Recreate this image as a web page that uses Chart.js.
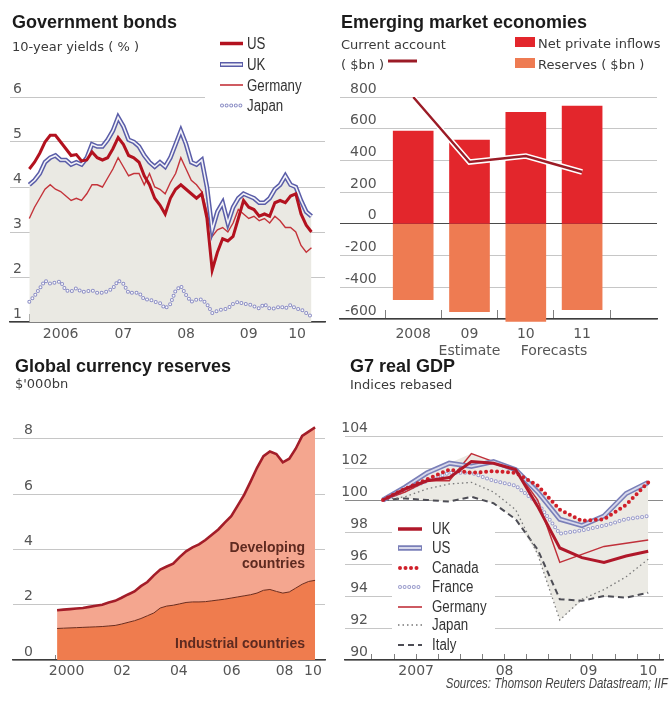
<!DOCTYPE html>
<html>
<head>
<meta charset="utf-8">
<script src="https://cdn.jsdelivr.net/npm/chart.js@4.4.1/dist/chart.umd.min.js"></script>
<style>
  html, body { margin: 0; padding: 0; background: #fff; }
  #page { position: relative; width: 671px; height: 702px; overflow: hidden; font-family: 'DejaVu Sans', sans-serif; color: #333; }
  canvas { position: absolute; }
  svg { position: absolute; left: 0; top: 0; }
  .t { position: absolute; white-space: nowrap; line-height: 1; transform: translateY(-50%); }
  .title { font-family: 'Liberation Sans', Arial, sans-serif; font-weight: bold; font-size: 18px; color: #1b1b1b; }
  .sub { font-size: 13px; color: #3a3a3a; }
  .leg { font-family: 'Liberation Sans', Arial, sans-serif; font-size: 16px; color: #333;
         transform: translateY(-50%) scaleX(0.83); transform-origin: left center; }
  .area { font-family: 'Liberation Sans', Arial, sans-serif; font-weight: bold; font-size: 14px; color: #5e2a20; text-align: right; }
  .src { font-family: 'Liberation Sans', Arial, sans-serif; font-style: italic; font-size: 14px; color: #444;
         transform: translateY(-50%) scaleX(0.82); transform-origin: right center; }
</style>
</head>
<body>
<div id="page">
  <canvas id="bonds" width="335" height="270" style="left:0;top:80px"></canvas>
  <canvas id="emerging" width="336" height="300" style="left:335px;top:80px"></canvas>
  <canvas id="reserves" width="335" height="290" style="left:0;top:400px"></canvas>
  <canvas id="gdp" width="336" height="260" style="left:335px;top:420px"></canvas>

  <svg width="671" height="702" viewBox="0 0 671 702">
    <!-- bond legend -->
    <rect x="205" y="30" width="130" height="88" fill="#fff"/>
    <line x1="220" y1="43.5" x2="243" y2="43.5" stroke="#b3121f" stroke-width="3.5"/>
    <line x1="220" y1="64.5" x2="243" y2="64.5" stroke="#5a5da8" stroke-width="5"/>
    <line x1="221" y1="64.5" x2="242" y2="64.5" stroke="#f3f3f8" stroke-width="2"/>
    <line x1="220" y1="85" x2="243" y2="85" stroke="#c4333a" stroke-width="1.6"/>
    <line x1="222" y1="105.5" x2="243" y2="105.5" stroke="#8d8fc6" stroke-width="4" stroke-dasharray="0 4.6" stroke-linecap="round"/>
    <line x1="222" y1="105.5" x2="243" y2="105.5" stroke="#fff" stroke-width="2" stroke-dasharray="0 4.6" stroke-linecap="round"/>
    <!-- emerging markets legend -->
    <line x1="388" y1="61" x2="417" y2="61" stroke="#9b1b26" stroke-width="3"/>
    <rect x="515" y="37" width="20" height="10" fill="#e3262c"/>
    <rect x="515" y="58" width="20" height="10" fill="#ee7b52"/>
    <!-- GDP legend -->
    <rect x="392" y="518" width="103" height="134" fill="#fff"/>
    <line x1="398" y1="529" x2="422" y2="529" stroke="#b0182a" stroke-width="3.5"/>
    <line x1="398" y1="548" x2="422" y2="548" stroke="#7a7fb8" stroke-width="5.5"/>
    <line x1="399" y1="548" x2="421" y2="548" stroke="#d8d9ec" stroke-width="2"/>
    <line x1="400" y1="568" x2="422" y2="568" stroke="#d0202a" stroke-width="4" stroke-dasharray="0 5.5" stroke-linecap="round"/>
    <line x1="400" y1="587" x2="422" y2="587" stroke="#9a9ccc" stroke-width="4" stroke-dasharray="0 4.6" stroke-linecap="round"/>
    <line x1="400" y1="587" x2="422" y2="587" stroke="#fff" stroke-width="2" stroke-dasharray="0 4.6" stroke-linecap="round"/>
    <line x1="398" y1="607" x2="422" y2="607" stroke="#c0303a" stroke-width="1.6"/>
    <line x1="398" y1="625" x2="422" y2="625" stroke="#777" stroke-width="1.3" stroke-dasharray="1.5 3"/>
    <line x1="398" y1="645" x2="422" y2="645" stroke="#4d4d55" stroke-width="2" stroke-dasharray="6 4"/>
  </svg>

  <div class="t title" style="left:12px;top:22px">Government bonds</div>
  <div class="t sub" style="left:12px;top:45.5px">10-year yields ( % )</div>
  <div class="t leg" style="left:247px;top:43.5px">US</div>
  <div class="t leg" style="left:247px;top:64.5px">UK</div>
  <div class="t leg" style="left:247px;top:86px">Germany</div>
  <div class="t leg" style="left:247px;top:106px">Japan</div>

  <div class="t title" style="left:341px;top:22px">Emerging market economies</div>
  <div class="t sub" style="left:341px;top:43.5px">Current account</div>
  <div class="t sub" style="left:341px;top:63.5px">( $bn )</div>
  <div class="t sub" style="left:538px;top:43px">Net private inflows</div>
  <div class="t sub" style="left:538px;top:63.5px">Reserves ( $bn )</div>

  <div class="t title" style="left:15px;top:365.5px">Global currency reserves</div>
  <div class="t sub" style="left:15px;top:383px">$'000bn</div>
  <div class="t area" style="right:366px;top:547px">Developing</div>
  <div class="t area" style="right:366px;top:563px">countries</div>
  <div class="t area" style="right:366px;top:643px">Industrial countries</div>

  <div class="t title" style="left:350px;top:365.5px">G7 real GDP</div>
  <div class="t sub" style="left:350px;top:383.5px">Indices rebased</div>
  <div class="t leg" style="left:432px;top:529px">UK</div>
  <div class="t leg" style="left:432px;top:548px">US</div>
  <div class="t leg" style="left:432px;top:568px">Canada</div>
  <div class="t leg" style="left:432px;top:587px">France</div>
  <div class="t leg" style="left:432px;top:607px">Germany</div>
  <div class="t leg" style="left:432px;top:625px">Japan</div>
  <div class="t leg" style="left:432px;top:645px">Italy</div>

  <div class="t src" style="right:3px;top:683px">Sources: Thomson Reuters Datastream; IIF</div>
</div>

<script>
// ---------- Government bonds: monthly 10-year yields, Jan 2006 - Jul 2010 (%) ----------
const bondStartYear = 2006;
const usYield = [
  4.40, 4.55, 4.75, 5.00, 5.15, 5.15, 5.00, 4.85, 4.70, 4.72, 4.58, 4.60,
  4.78, 4.65, 4.60, 4.65, 4.85, 5.10, 4.95, 4.70, 4.65, 4.55, 4.25, 4.05,
  3.75, 3.60, 3.40, 3.75, 3.95, 4.05, 3.95, 3.85, 3.75, 3.85, 3.30, 2.15,
  2.55, 2.85, 2.80, 2.90, 3.30, 3.70, 3.55, 3.50, 3.35, 3.40, 3.35, 3.65,
  3.70, 3.65, 3.80, 3.85, 3.40, 3.15, 3.00
];
const ukYield = [
  4.05, 4.15, 4.30, 4.55, 4.65, 4.70, 4.60, 4.60, 4.50, 4.55, 4.50, 4.65,
  4.95, 4.90, 4.90, 5.05, 5.25, 5.55, 5.35, 5.05, 5.00, 4.90, 4.70, 4.55,
  4.45, 4.55, 4.45, 4.65, 4.95, 5.25, 4.95, 4.55, 4.50, 4.60, 4.00, 3.05,
  3.45, 3.65, 3.20, 3.55, 3.75, 3.85, 3.80, 3.75, 3.65, 3.65, 3.75, 3.95,
  4.05, 4.25, 4.05, 4.00, 3.70, 3.45, 3.35
];
const deYield = [
  3.30, 3.55, 3.75, 3.95, 4.05, 3.95, 3.90, 3.80, 3.70, 3.75, 3.70, 3.85,
  4.05, 4.05, 4.00, 4.20, 4.40, 4.65, 4.45, 4.25, 4.30, 4.30, 4.05, 4.30,
  4.00, 3.95, 3.85, 4.10, 4.30, 4.65, 4.40, 4.15, 4.05, 3.90, 3.45, 2.90,
  3.05, 3.10, 3.00, 3.20, 3.50, 3.40, 3.30, 3.35, 3.25, 3.30, 3.20, 3.35,
  3.25, 3.10, 3.10, 3.00, 2.70, 2.55, 2.65
];
const jpYield = [
  1.45, 1.58, 1.75, 1.92, 1.85, 1.88, 1.90, 1.70, 1.68, 1.75, 1.67, 1.68,
  1.70, 1.65, 1.65, 1.68, 1.75, 1.92, 1.85, 1.65, 1.65, 1.65, 1.50, 1.50,
  1.45, 1.42, 1.30, 1.40, 1.70, 1.80, 1.60, 1.45, 1.50, 1.50, 1.40, 1.20,
  1.25, 1.28, 1.30, 1.40, 1.45, 1.40, 1.40, 1.35, 1.30, 1.40, 1.30, 1.30,
  1.35, 1.30, 1.38, 1.30, 1.28, 1.20, 1.12
];
const bondYTicks = [1, 2, 3, 4, 5, 6];
const bondYearMarks = [2006, 2007, 2008, 2009, 2010];
const bondLabelAt = [2006.5, 2007.5, 2008.5, 2009.5, 2010.27];
const bondLabels = ['2006', '07', '08', '09', '10'];

// ---------- Emerging market economies ($bn) ----------
const emCategories = ['2008', '09', '10', '11'];
const emLabelRows = [['2008'], ['09', 'Estimate'], ['10'], ['11']];
const emForecastsNote = ['', 'Forecasts'];
const netPrivateInflows = [585, 528, 704, 742];
const reservesChange = [-478, -553, -616, -541];
const currentAccount = [800, 390, 428, 327];
const emYTicks = [-600, -400, -200, 0, 200, 400, 600, 800];

// ---------- Global currency reserves, quarterly 2000Q1 - 2010Q1 ($'000bn) ----------
const reservesStartYear = 2000;
const industrialCountries = [
  1.14, 1.15, 1.16, 1.17, 1.18, 1.19, 1.20, 1.21, 1.23, 1.25, 1.30, 1.36,
  1.42, 1.50, 1.60, 1.70, 1.88, 1.95, 1.98, 2.03, 2.08, 2.10, 2.10, 2.11,
  2.14, 2.17, 2.20, 2.24, 2.28, 2.32, 2.36, 2.42, 2.52, 2.55, 2.48, 2.42,
  2.46, 2.60, 2.74, 2.84, 2.88
];
const allCountries = [
  1.80, 1.82, 1.84, 1.86, 1.88, 1.92, 1.96, 2.00, 2.08, 2.14, 2.25, 2.37,
  2.48, 2.67, 2.82, 3.06, 3.27, 3.38, 3.48, 3.72, 3.93, 4.07, 4.18, 4.34,
  4.53, 4.72, 4.97, 5.20, 5.58, 5.97, 6.45, 6.95, 7.37, 7.54, 7.45, 7.15,
  7.28, 7.64, 8.10, 8.26, 8.41
];
const resYTicks = [0, 2, 4, 6, 8];
const resYearMarks = [2000, 2001, 2002, 2003, 2004, 2005, 2006, 2007, 2008, 2009, 2010];
const resLabelAt = [2000.45, 2002.6, 2004.8, 2006.85, 2008.9, 2010.0];
const resLabels = ['2000', '02', '04', '06', '08', '10'];

// ---------- G7 real GDP, quarterly 2007Q1 - 2010Q1 (index) ----------
const gdpQuarters = ['2007Q1', '2007Q2', '2007Q3', '2007Q4', '2008Q1', '2008Q2', '2008Q3',
                     '2008Q4', '2009Q1', '2009Q2', '2009Q3', '2009Q4', '2010Q1'];
const ukGdp      = [100, 100.7, 101.2, 101.4, 102.4, 102.3, 101.9, 99.6, 97.0, 96.4, 96.1, 96.5, 96.8];
const usGdp      = [100, 100.8, 101.7, 102.3, 102.1, 102.4, 101.9, 100.5, 98.8, 98.4, 99.0, 100.4, 101.1];
const canadaGdp  = [100, 100.7, 101.3, 101.9, 101.7, 101.8, 101.7, 100.9, 99.4, 98.7, 98.8, 99.7, 101.1];
const franceGdp  = [100, 100.6, 101.2, 101.7, 101.7, 101.2, 100.9, 99.8, 97.9, 98.1, 98.4, 98.8, 99.0];
const germanyGdp = [100, 100.5, 101.2, 101.2, 102.9, 102.4, 101.9, 100.0, 96.1, 96.6, 97.1, 97.3, 97.5];
const japanGdp   = [100, 100.2, 100.7, 101.0, 101.1, 100.5, 99.4, 96.6, 92.5, 93.8, 94.4, 95.2, 96.3];
const italyGdp   = [100, 100.1, 100.0, 99.9, 100.2, 99.8, 98.8, 96.9, 93.8, 93.7, 94.0, 93.9, 94.2];
const gdpYTicks = [90, 92, 94, 96, 98, 100, 102, 104];
const gdpQuarterMarks = [-0.5, 0.5, 1.5, 2.5, 3.5, 4.5, 5.5, 6.5, 7.5, 8.5, 9.5, 10.5, 11.5, 12.5];
const gdpLabelAt = [1.5, 5.5, 9.3, 12.0];
const gdpLabels = ['2007', '08', '09', '10'];

// ---------- shared setup ----------
Chart.defaults.font.family = "'DejaVu Sans', sans-serif";
Chart.defaults.font.size = 14;
Chart.defaults.color = '#555';
Chart.defaults.animation = false;
Chart.defaults.responsive = false;
Chart.defaults.devicePixelRatio = 1;
Chart.defaults.plugins.legend.display = false;
Chart.defaults.plugins.tooltip.enabled = false;
Chart.defaults.elements.point.radius = 0;
Chart.defaults.elements.line.tension = 0;

const TICK_GREY = '#555';

// Horizontal axis: short inward tick marks at `marks`, text labels at `labelAt`.
function markedAxis(o) {
  const vals = Array.from(new Set([...o.marks, ...o.labelAt])).sort((a, b) => a - b);
  return {
    type: 'linear', min: o.min, max: o.max, offset: false,
    afterBuildTicks: s => { s.ticks = vals.map(v => ({ value: v })); },
    afterFit: s => { s.height = o.height; },
    border: { display: true, color: '#3d3d3d', width: 1.4 },
    grid: {
      offset: false, drawOnChartArea: false, drawTicks: true, tickLength: -o.tick, tickWidth: 1,
      tickColor: c => (c.tick && o.marks.includes(c.tick.value)) ? '#808080' : 'rgba(0,0,0,0)'
    },
    ticks: {
      autoSkip: false, maxRotation: 0, minRotation: 0, padding: o.pad, color: TICK_GREY, font: { size: 14 },
      callback: v => { const i = o.labelAt.indexOf(v); return i < 0 ? '' : o.labels[i]; }
    }
  };
}

// Vertical axis: takes no width; labels sit just above their gridline, inside the plot.
function valueAxis(o) {
  return {
    type: 'linear', position: 'left', min: o.min, max: o.max,
    afterBuildTicks: s => { s.ticks = o.values.map(v => ({ value: v })); },
    afterFit: s => { s.width = 0; },
    border: { display: false },
    grid: {
      drawTicks: false, lineWidth: 1,
      color: c => (c.tick && o.strong !== undefined && c.tick.value === o.strong) ? o.strongColor : '#c6c6c6'
    },
    ticks: {
      mirror: true, padding: o.pad, crossAlign: o.align || 'near', labelOffset: -8,
      color: TICK_GREY, font: { size: 14 }, callback: v => String(v)
    }
  };
}

const asPoints = (arr, xOf) => arr.map((v, i) => ({ x: xOf(i), y: v }));

// ---------- Government bonds ----------
const bondX = i => bondStartYear + i / 12;
new Chart(document.getElementById('bonds'), {
  type: 'line',
  data: {
    datasets: [
      { label: 'US', data: asPoints(usYield, bondX), borderColor: '#b3121f', borderWidth: 3 },
      { label: 'UK', data: asPoints(ukYield, bondX), borderColor: '#f3f3f8', borderWidth: 1.6 },
      { label: 'UK edge', data: asPoints(ukYield, bondX), borderColor: '#5a5da8', borderWidth: 4.6,
        fill: 'start', backgroundColor: '#eae9e3' },
      { label: 'Germany', data: asPoints(deYield, bondX), borderColor: '#c4333a', borderWidth: 1.4 },
      { label: 'Japan', data: asPoints(jpYield, bondX), borderColor: '#ffffff', borderWidth: 2,
        borderDash: [0, 4.6], borderCapStyle: 'round' },
      { label: 'Japan edge', data: asPoints(jpYield, bondX), borderColor: '#8d8fc6', borderWidth: 4,
        borderDash: [0, 4.6], borderCapStyle: 'round' }
    ]
  },
  options: {
    layout: { padding: { left: 10, right: 10, top: 17, bottom: 0 } },
    plugins: { filler: { drawTime: 'beforeDatasetsDraw' } },
    scales: {
      x: markedAxis({ min: 2005.692, max: 2010.716, marks: bondYearMarks, labelAt: bondLabelAt,
                      labels: bondLabels, tick: 8, pad: 12, height: 28 }),
      y: valueAxis({ min: 1, max: 6, values: bondYTicks, pad: 3 })
    }
  }
});

// ---------- Emerging market economies ----------
const emX = i => i;
const emMarks = [-0.5, 0.5, 1.5, 2.5, 3.5];
const emLabelAt = [0, 1, 2, 2.5, 3];
const emLabelText = [emLabelRows[0], emLabelRows[1], emLabelRows[2], emForecastsNote, emLabelRows[3]];
new Chart(document.getElementById('emerging'), {
  type: 'bar',
  data: {
    datasets: [
      { type: 'line', label: 'Current account', data: asPoints(currentAccount, emX),
        borderColor: '#9b1b26', borderWidth: 2.4 },
      { type: 'line', label: 'Current account halo', data: asPoints(currentAccount, emX),
        borderColor: '#ffffff', borderWidth: 5.5 },
      { label: 'Net private inflows', data: asPoints(netPrivateInflows, emX),
        backgroundColor: '#e3262c', barThickness: 40, grouped: false },
      { label: 'Reserves ($bn)', data: asPoints(reservesChange, emX),
        backgroundColor: '#ee7b52', barThickness: 40, grouped: false, clip: false }
    ]
  },
  options: {
    layout: { padding: { left: 5, right: 14, top: 17, bottom: 0 } },
    scales: {
      x: markedAxis({ min: -1.30, max: 4.33, marks: emMarks, labelAt: emLabelAt,
                      labels: emLabelText, tick: 9, pad: 16, height: 61 }),
      y: valueAxis({ min: -600, max: 800, values: emYTicks, pad: 5, align: 'far',
                     strong: 0, strongColor: '#4a4a4a' })
    }
  }
});

// ---------- Global currency reserves ----------
const resX = i => reservesStartYear + i / 4 + 0.08;
new Chart(document.getElementById('reserves'), {
  type: 'line',
  data: {
    datasets: [
      { label: 'Industrial countries', data: asPoints(industrialCountries, resX),
        borderColor: '#6b2b1c', borderWidth: 1, fill: 'origin', backgroundColor: '#ef7c4e' },
      { label: 'All countries', data: asPoints(allCountries, resX),
        borderColor: '#a31d29', borderWidth: 2.6, fill: 0, backgroundColor: '#f4a68f' }
    ]
  },
  options: {
    layout: { padding: { left: 13, right: 10, top: 19, bottom: 0 } },
    plugins: { filler: { drawTime: 'beforeDatasetsDraw' } },
    scales: {
      x: markedAxis({ min: 1998.372, max: 2010.465, marks: resYearMarks, labelAt: resLabelAt,
                      labels: resLabels, tick: 5, pad: 8, height: 30 }),
      y: valueAxis({ min: 0, max: 8.7, values: resYTicks, pad: 11 })
    }
  }
});

// ---------- G7 real GDP ----------
const gdpX = i => i;
const gdpSeries = [ukGdp, usGdp, canadaGdp, franceGdp, germanyGdp, japanGdp, italyGdp];
const gdpHigh = gdpQuarters.map((_, i) => Math.max(...gdpSeries.map(s => s[i])));
const gdpLow = gdpQuarters.map((_, i) => Math.min(...gdpSeries.map(s => s[i])));
new Chart(document.getElementById('gdp'), {
  type: 'line',
  data: {
    datasets: [
      { label: 'UK', data: asPoints(ukGdp, gdpX), borderColor: '#b0182a', borderWidth: 3 },
      { label: 'Canada', data: asPoints(canadaGdp, gdpX), borderColor: '#d0202a', borderWidth: 4,
        borderDash: [0, 5.5], borderCapStyle: 'round' },
      { label: 'US', data: asPoints(usGdp, gdpX), borderColor: '#d8d9ec', borderWidth: 1.8 },
      { label: 'US edge', data: asPoints(usGdp, gdpX), borderColor: '#7a7fb8', borderWidth: 5 },
      { label: 'Germany', data: asPoints(germanyGdp, gdpX), borderColor: '#c0303a', borderWidth: 1.5 },
      { label: 'France', data: asPoints(franceGdp, gdpX), borderColor: '#ffffff', borderWidth: 2,
        borderDash: [0, 4.6], borderCapStyle: 'round' },
      { label: 'France edge', data: asPoints(franceGdp, gdpX), borderColor: '#9a9ccc', borderWidth: 4,
        borderDash: [0, 4.6], borderCapStyle: 'round' },
      { label: 'Japan', data: asPoints(japanGdp, gdpX), borderColor: '#7a7a7a', borderWidth: 1.3,
        borderDash: [1.5, 3] },
      { label: 'Italy', data: asPoints(italyGdp, gdpX), borderColor: '#4d4d55', borderWidth: 2,
        borderDash: [6, 4] },
      { label: 'range high', data: asPoints(gdpHigh, gdpX), borderWidth: 0, borderColor: 'rgba(0,0,0,0)',
        fill: '+1', backgroundColor: '#ebeae4' },
      { label: 'range low', data: asPoints(gdpLow, gdpX), borderWidth: 0, borderColor: 'rgba(0,0,0,0)' }
    ]
  },
  options: {
    layout: { padding: { left: 10, right: 8, top: 16, bottom: 0 } },
    plugins: { filler: { drawTime: 'beforeDatasetsDraw' } },
    scales: {
      x: markedAxis({ min: -1.72, max: 12.67, marks: gdpQuarterMarks, labelAt: gdpLabelAt,
                      labels: gdpLabels, tick: 6, pad: 8.6, height: 20 }),
      y: valueAxis({ min: 90, max: 104, values: gdpYTicks, pad: -3.7, align: 'far',
                     strong: 100, strongColor: '#8a8a8a' })
    }
  }
});
</script>
</body>
</html>
